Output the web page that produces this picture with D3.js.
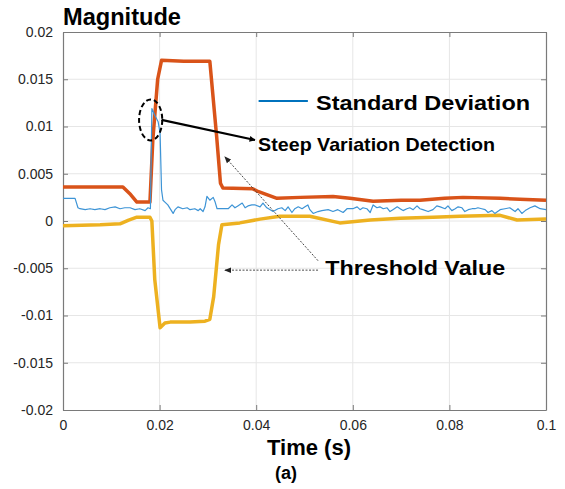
<!DOCTYPE html>
<html><head><meta charset="utf-8">
<script src="https://cdn.jsdelivr.net/npm/d3@7"></script>
<style>
html,body{margin:0;padding:0;background:#fff;}
svg{display:block;font-family:"Liberation Sans",Arial,sans-serif;}
</style></head>
<body>
<svg id="chart" width="565" height="489"></svg>
<script>
// ---- data ----
const xTicks = [0, 0.02, 0.04, 0.06, 0.08, 0.1];
const xTickLabels = ["0", "0.02", "0.04", "0.06", "0.08", "0.1"];
const yTicks = [-0.02, -0.015, -0.01, -0.005, 0, 0.005, 0.01, 0.015, 0.02];
const yTickLabels = ["-0.02", "-0.015", "-0.01", "-0.005", "0", "0.005", "0.01", "0.015", "0.02"];

const upperT = [0, 0.0124, 0.0140, 0.0153, 0.0180, 0.0186, 0.0196, 0.0204, 0.0250, 0.0304, 0.0318, 0.0326, 0.0331, 0.0393, 0.0405, 0.0443, 0.0491, 0.0559, 0.0594, 0.0642, 0.0700, 0.0739, 0.0790, 0.0828, 0.0905, 0.0946, 0.1];
const upperV = [0.0036, 0.0036, 0.0028, 0.0020, 0.0020, 0.0086, 0.0150, 0.0170, 0.0169, 0.0169, 0.0090, 0.0040, 0.0035, 0.0034, 0.0031, 0.0024, 0.0025, 0.0026, 0.0024, 0.0021, 0.0022, 0.0022, 0.0024, 0.0025, 0.0024, 0.0023, 0.0022];

const lowerT = [0, 0.0077, 0.0118, 0.0136, 0.0153, 0.0180, 0.0184, 0.0190, 0.0201, 0.0211, 0.0222, 0.0263, 0.0294, 0.0304, 0.0312, 0.0322, 0.0329, 0.0366, 0.0408, 0.0449, 0.0511, 0.0573, 0.0636, 0.0698, 0.0766, 0.0822, 0.0905, 0.0940, 0.1];
const lowerV = [-0.0005, -0.0004, -0.0003, 0.0001, 0.0004, 0.0004, 0.0000, -0.0062, -0.0113, -0.0108, -0.0107, -0.0107, -0.0106, -0.0104, -0.0080, -0.0025, -0.0004, -0.0002, 0.0002, 0.0005, 0.0005, -0.0002, 0.0001, 0.0003, 0.0004, 0.0005, 0.0006, 0.0001, 0.0002];

const stdT = [0, 0.0006, 0.0014, 0.0025, 0.0031, 0.0035, 0.0046, 0.0056, 0.0066, 0.0077, 0.0087, 0.0097, 0.0108, 0.0118, 0.0128, 0.0139, 0.0149, 0.0159, 0.0170, 0.0176, 0.0181,
  0.0184, 0.0190, 0.0197, 0.0201, 0.0204, 0.0207, 0.0211, 0.0217, 0.0228,
  0.0232, 0.0238, 0.0248, 0.0257, 0.0263, 0.0273, 0.0280, 0.0284, 0.0290, 0.0294, 0.0298, 0.0304, 0.0311, 0.0315, 0.0319, 0.0325, 0.0335, 0.0342, 0.0350, 0.0356, 0.0362, 0.0371, 0.0377, 0.0383, 0.0391,
  0.0398, 0.0408, 0.0414, 0.0422, 0.0429, 0.0435, 0.0445, 0.0453, 0.0460, 0.0466, 0.0474, 0.0480, 0.0487, 0.0495, 0.0501, 0.0507, 0.0511, 0.0518, 0.0528, 0.0536, 0.0549, 0.0559, 0.0569, 0.0580, 0.0588,
  0.0594, 0.0600, 0.0609, 0.0615, 0.0621, 0.0629, 0.0636, 0.0642, 0.0650, 0.0656, 0.0663, 0.0671, 0.0677, 0.0683, 0.0692, 0.0698, 0.0704, 0.0712, 0.0718, 0.0725, 0.0733, 0.0739, 0.0745, 0.0756, 0.0766, 0.0774,
  0.0781, 0.0791, 0.0797, 0.0805, 0.0812, 0.0818, 0.0826, 0.0832, 0.0839, 0.0847, 0.0853, 0.0859, 0.0867, 0.0874, 0.0880, 0.0888, 0.0894, 0.0905, 0.0915, 0.0925, 0.0936, 0.0942, 0.0950, 0.0957, 0.0967, 0.0977, 0.0988, 0.1];
const stdV = [0.0024, 0.0024, 0.0024, 0.0024, 0.0014, 0.0013, 0.0012, 0.0013, 0.0012, 0.0013, 0.0012, 0.0014, 0.0015, 0.0013, 0.0014, 0.0014, 0.0012, 0.0013, 0.0011, 0.0014, 0.0013,
  0.0119, 0.0112, 0.0105, 0.0093, 0.0033, 0.0022, 0.0020, 0.0017, 0.0008,
  0.0012, 0.0015, 0.0013, 0.0014, 0.0012, 0.0013, 0.0011, 0.0013, 0.0010, 0.0015, 0.0026, 0.0022, 0.0025, 0.0020, 0.0013, 0.0013, 0.0013, 0.0013, 0.0017, 0.0014, 0.0016, 0.0019, 0.0014, 0.0016, 0.0017,
  0.0017, 0.0015, 0.0019, 0.0014, 0.0012, 0.0010, 0.0013, 0.0014, 0.0011, 0.0015, 0.0009, 0.0013, 0.0015, 0.0013, 0.0015, 0.0017, 0.0012, 0.0008, 0.0010, 0.0011, 0.0012, 0.0010, 0.0012, 0.0009, 0.0013,
  0.0013, 0.0013, 0.0015, 0.0012, 0.0014, 0.0013, 0.0009, 0.0017, 0.0014, 0.0015, 0.0013, 0.0014, 0.0010, 0.0012, 0.0015, 0.0013, 0.0011, 0.0013, 0.0014, 0.0012, 0.0016, 0.0013, 0.0012, 0.0010, 0.0012, 0.0016,
  0.0015, 0.0013, 0.0016, 0.0011, 0.0013, 0.0015, 0.0014, 0.0010, 0.0012, 0.0013, 0.0013, 0.0014, 0.0013, 0.0012, 0.0009, 0.0011, 0.0008, 0.0012, 0.0013, 0.0014, 0.0010, 0.0013, 0.0008, 0.0011, 0.0014, 0.0016, 0.0013, 0.0012];

const legendLabel = "Standard Deviation";
const steepLabel = "Steep Variation Detection";
const thresholdLabel = "Threshold Value";
const yTitle = "Magnitude";
const xTitle = "Time (s)";
const panelLabel = "(a)";

// ---- drawing ----
const svg = d3.select("#chart");
const x = d3.scaleLinear().domain([0, 0.1]).range([63, 546]);
const y = d3.scaleLinear().domain([-0.02, 0.02]).range([410, 32]);

const defs = svg.append("defs");
defs.append("marker").attr("id", "headSolid").attr("viewBox", "0 0 10 10")
  .attr("refX", 9).attr("refY", 5).attr("markerWidth", 6).attr("markerHeight", 6)
  .attr("markerUnits", "userSpaceOnUse").attr("orient", "auto")
  .append("path").attr("d", "M0,0 L10,5 L0,10 z").attr("fill", "#000");
defs.append("marker").attr("id", "headThin").attr("viewBox", "0 0 10 10")
  .attr("refX", 9).attr("refY", 5).attr("markerWidth", 7).attr("markerHeight", 7)
  .attr("markerUnits", "userSpaceOnUse").attr("orient", "auto")
  .append("path").attr("d", "M0,1 L10,5 L0,9 z").attr("fill", "#222");

// grid
const grid = svg.append("g");
grid.selectAll(".gx").data(xTicks.slice(1, -1)).join("line")
  .attr("x1", d => x(d)).attr("x2", d => x(d)).attr("y1", y(0.02)).attr("y2", y(-0.02))
  .attr("stroke", "#e6e6e6").attr("stroke-width", 1);
grid.selectAll(".gy").data(yTicks.slice(1, -1)).join("line")
  .attr("y1", d => y(d)).attr("y2", d => y(d)).attr("x1", x(0)).attr("x2", x(0.1))
  .attr("stroke", "#e6e6e6").attr("stroke-width", 1);

// axes
const axColor = "#7a7a7a";
const fmtX = d => xTickLabels[xTicks.indexOf(d)];
const fmtY = d => yTickLabels[yTicks.indexOf(d)];
function styleAxis(g) {
  g.select(".domain").attr("stroke", axColor).attr("stroke-width", 1.2);
  g.selectAll(".tick line").attr("stroke", axColor);
  g.selectAll(".tick text").attr("fill", "#262626").attr("font-size", 14)
    .attr("font-family", "'Liberation Sans', Arial, sans-serif");
}
svg.append("g").attr("transform", `translate(0,${y(-0.02)})`)
  .call(d3.axisBottom(x).tickValues(xTicks).tickFormat(fmtX).tickSizeInner(-5).tickSizeOuter(0).tickPadding(10))
  .call(styleAxis);
svg.append("g").attr("transform", `translate(0,${y(0.02)})`)
  .call(d3.axisTop(x).tickValues(xTicks).tickFormat("").tickSizeInner(-5).tickSizeOuter(0))
  .call(styleAxis);
svg.append("g").attr("transform", `translate(${x(0)},0)`)
  .call(d3.axisLeft(y).tickValues(yTicks).tickFormat(fmtY).tickSizeInner(-5).tickSizeOuter(0).tickPadding(10))
  .call(styleAxis);
svg.append("g").attr("transform", `translate(${x(0.1)},0)`)
  .call(d3.axisRight(y).tickValues(yTicks).tickFormat("").tickSizeInner(-5).tickSizeOuter(0))
  .call(styleAxis);

// lines
const line = d3.line().x(d => x(d[0])).y(d => y(d[1]));
const zip = (a, b) => a.map((t, i) => [t, b[i]]);
svg.append("path").datum(zip(lowerT, lowerV)).attr("d", line)
  .attr("fill", "none").attr("stroke", "#EDB120").attr("stroke-width", 3.5).attr("stroke-linejoin", "round");
svg.append("path").datum(zip(upperT, upperV)).attr("d", line)
  .attr("fill", "none").attr("stroke", "#D95319").attr("stroke-width", 3.5).attr("stroke-linejoin", "round");
svg.append("path").datum(zip(stdT, stdV)).attr("d", line)
  .attr("fill", "none").attr("stroke", "#3d94d6").attr("stroke-width", 1.2).attr("stroke-linejoin", "round");

// legend
svg.append("line").attr("x1", x(0.0405)).attr("x2", x(0.0507)).attr("y1", y(0.0127)).attr("y2", y(0.0127))
  .attr("stroke", "#0072BD").attr("stroke-width", 2);
svg.append("text").attr("x", x(0.0524)).attr("y", 110).text(legendLabel)
  .attr("font-size", 21).attr("font-weight", "bold").attr("fill", "#000")
  .attr("textLength", 214).attr("lengthAdjust", "spacingAndGlyphs");

// annotation: dashed ellipse + solid arrow
svg.append("ellipse").attr("cx", x(0.01815)).attr("cy", y(0.0107))
  .attr("rx", x(0.0024) - x(0)).attr("ry", y(0) - y(0.00217))
  .attr("fill", "none").attr("stroke", "#000").attr("stroke-width", 2).attr("stroke-dasharray", "5,3");
svg.append("line").attr("x1", x(0.0204)).attr("y1", y(0.0107)).attr("x2", x(0.03975)).attr("y2", y(0.00857))
  .attr("stroke", "#000").attr("stroke-width", 2.2).attr("marker-end", "url(#headSolid)");
svg.append("text").attr("x", x(0.0404)).attr("y", 151).text(steepLabel)
  .attr("font-size", 18.5).attr("font-weight", "bold").attr("fill", "#000")
  .attr("textLength", 237).attr("lengthAdjust", "spacingAndGlyphs");

// threshold arrows
svg.append("line").attr("x1", x(0.0528)).attr("y1", y(-0.0042)).attr("x2", x(0.0335)).attr("y2", y(0.0068))
  .attr("stroke", "#333").attr("stroke-width", 0.9).attr("stroke-dasharray", "2,1.5").attr("marker-end", "url(#headThin)");
svg.append("line").attr("x1", x(0.0528)).attr("y1", y(-0.0052)).attr("x2", x(0.0335)).attr("y2", y(-0.0052))
  .attr("stroke", "#333").attr("stroke-width", 0.9).attr("stroke-dasharray", "2,1.5").attr("marker-end", "url(#headThin)");
svg.append("text").attr("x", x(0.0543)).attr("y", 275).text(thresholdLabel)
  .attr("font-size", 21).attr("font-weight", "bold").attr("fill", "#000")
  .attr("textLength", 180).attr("lengthAdjust", "spacingAndGlyphs");

// titles
svg.append("text").attr("x", 63).attr("y", 25).text(yTitle)
  .attr("font-size", 23).attr("font-weight", "bold").attr("fill", "#000")
  .attr("textLength", 118).attr("lengthAdjust", "spacingAndGlyphs");
svg.append("text").attr("x", 309).attr("y", 455).attr("text-anchor", "middle").text(xTitle)
  .attr("font-size", 22).attr("font-weight", "bold").attr("fill", "#000");
svg.append("text").attr("x", 286).attr("y", 479).attr("text-anchor", "middle").text(panelLabel)
  .attr("font-size", 18).attr("font-weight", "bold").attr("fill", "#000");
</script>
</body></html>
